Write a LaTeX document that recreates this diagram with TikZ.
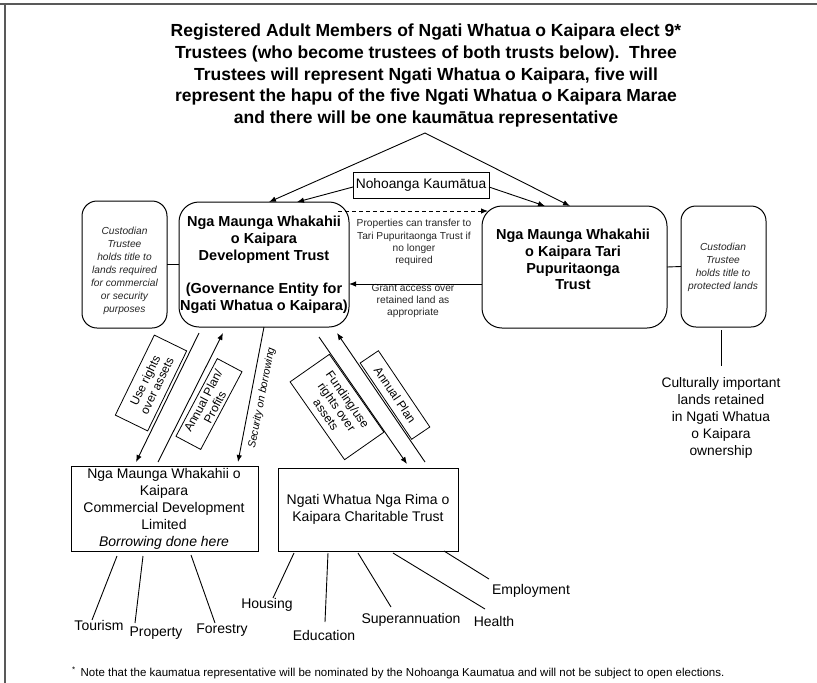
\documentclass[tikz,border=0pt]{standalone}
\usepackage{fontspec}
\setmainfont{Liberation Sans}
\usetikzlibrary{arrows.meta,calc}
\begin{document}
\begin{tikzpicture}[x=1pt,y=-1pt,
  every node/.style={inner sep=0pt, outer sep=0pt},
  ln/.style={line width=0.9pt, black},
  arr/.style={ln, -{Latex[length=7pt,width=5.5pt]}},
  rbox/.style={draw, line width=1pt, rounded corners=20pt},
  cbox/.style={draw, line width=1pt, rounded corners=15pt},
  sbox/.style={draw, line width=1pt},
  lbl/.style={draw, line width=0.8pt, align=center, font=\fontsize{12}{13.2}\selectfont},
  boldtxt/.style={align=center, font=\bfseries\fontsize{14.5}{16.8}\selectfont},
  custtxt/.style={align=center, font=\itshape\fontsize{10.2}{13}\selectfont, text=black!85},
  smalltxt/.style={align=center, font=\fontsize{10.2}{12.2}\selectfont, text=black!85},
  boxtxt/.style={align=center, font=\fontsize{14}{17}\selectfont},
  leaf/.style={font=\fontsize{14}{17}\selectfont}
]
\useasboundingbox (0,0) rectangle (817,683);
% frame
\draw[line width=2pt, black!65] (0,4) -- (817,4);
\draw[line width=1.6pt, black!65] (5,4) -- (5,683);

% title
\node[align=center, font=\bfseries\fontsize{17.5}{21.75}\selectfont] (title) at (426,75.5)
 {Registered Adult Members of Ngati Whatua o Kaipara elect 9*\\
  Trustees (who become trustees of both trusts below).\ \ Three\\
  Trustees will represent Ngati Whatua o Kaipara, five will\\
  represent the hapu of the five Ngati Whatua o Kaipara Marae\\
  and there will be one kaumātua representative};
\coordinate (apex) at (425,133);

% main boxes
\node[rbox, minimum width=170pt, minimum height=125pt] (dev) at (264,264.5) {};
\node[boldtxt] (devtext) at (264,265) {Nga Maunga Whakahii\\o Kaipara\\Development Trust\\[16.8pt](Governance Entity for\\Ngati Whatua o Kaipara)};
\node[rbox, minimum width=185pt, minimum height=122pt] (tari) at (574.5,267) {};
\node[boldtxt] (taritext) at (573,259.5) {Nga Maunga Whakahii\\o Kaipara Tari\\Pupuritaonga\\Trust};
\node[cbox, minimum width=85pt, minimum height=127pt] (lc) at (124.5,264.5) {};
\node[custtxt] (lctext) at (124.5,270.5) {Custodian\\Trustee\\holds title to\\lands required\\for commercial\\or security\\purposes};
\node[cbox, minimum width=85pt, minimum height=121pt] (rc) at (723.5,266.5) {};
\node[custtxt] (rctext) at (723,267) {Custodian\\Trustee\\holds title to\\protected lands};
\node[sbox, minimum width=136pt, minimum height=26pt, font=\fontsize{13.8}{16}\selectfont] (noh) at (421,185) {Nohoanga Kaumātua};

\node[align=center, font=\fontsize{13.8}{17}\selectfont, anchor=north] (cult) at (721,377)
 {Culturally important\\lands retained\\in Ngati Whatua\\o Kaipara\\ownership};

% lower boxes
\node[sbox, minimum width=187pt, minimum height=85pt] (com) at (164.5,508.5) {};
\node[boxtxt] (comtext) at (164,509) {Nga Maunga Whakahii o\\Kaipara\\Commercial Development\\Limited\\\textit{Borrowing done here}};
\node[sbox, minimum width=180pt, minimum height=83pt] (cha) at (368,509.5) {};
\node[boxtxt] (chatext) at (368,509.5) {Ngati Whatua Nga Rima o\\Kaipara Charitable Trust};

% texts near arrows
\node[smalltxt] (proptxt) at (414,242.5) {Properties can transfer to\\Tari Pupuritaonga Trust if\\no longer\\required};
\node[smalltxt] (granttxt) at (413,301) {Grant access over\\retained land as\\appropriate};

% top connectors
\draw[arr] (apex) -- ([xshift=5pt]dev.north);
\draw[arr] (apex) -- ([xshift=-4.5pt]tari.north);
\draw[arr] ([yshift=-2pt]noh.west) -- ([xshift=33pt]dev.north);
\draw[arr] ([yshift=-2pt]noh.east) -- ([xshift=-29.5pt]tari.north);
\draw[arr, dashed, dash pattern=on 4pt off 3pt] ([xshift=-11pt,yshift=-9pt]dev.north east) -- ([xshift=6pt,yshift=-5pt]tari.north west);
\draw[arr] ([yshift=-17pt]tari.west) coordinate (g1) -- (dev.east |- g1);
\draw[ln] (lc.east) -- (dev.west);
\draw[ln] (tari.east) -- (rc.west);
\draw[ln] ([xshift=-2.5pt,yshift=-3pt]rc.south) -- ([yshift=11pt]cult.north);

% dev <-> commercial
\draw[arr] ([xshift=-65pt,yshift=-6pt]dev.south) -- ([xshift=-28.5pt,yshift=4pt]com.north);
\draw[arr] ([xshift=-6.5pt,yshift=4pt]com.north) -- ([xshift=-41pt,yshift=-6pt]dev.south);
\draw[arr] (dev.south) -- ([xshift=73.5pt,yshift=4pt]com.north);
% dev <-> charitable
\draw[arr] ([xshift=55pt,yshift=-10pt]dev.south) -- ([xshift=39pt,yshift=4pt]cha.north);
\draw[arr] ([xshift=57pt,yshift=6pt]cha.north) -- ([xshift=73pt,yshift=-6pt]dev.south);

% rotated labels
\node[lbl, minimum width=89pt, minimum height=36pt, rotate=64] (use) at (151,383) {Use rights\\over assets};
\node[lbl, minimum width=88pt, minimum height=28pt, rotate=62] (ap1) at (209,404) {Annual Plan/\\Profits};
\node[lbl, minimum width=95pt, minimum height=48pt, rotate=-55] (fund) at (337,407) {Funding/use\\rights over\\assets};
\node[lbl, minimum width=92pt, minimum height=22pt, rotate=-56] (ap2) at (395,395) {Annual Plan};
\node[font=\itshape\fontsize{10.6}{12}\selectfont, rotate=79] (sec) at (262,398) {Security on borrowing};

% leaves of commercial
\node[leaf] (tour) at (99,625) {Tourism};
\node[leaf] (prop) at (156,633) {Property};
\node[leaf] (fore) at (222,630) {Forestry};
\draw[ln] ([xshift=-47.5pt,yshift=-5pt]com.south) -- ([xshift=-7pt,yshift=5pt]tour.center);
\draw[ln] ([xshift=-21.5pt,yshift=-5pt]com.south) -- ([xshift=-21pt,yshift=10pt]prop.center);
\draw[ln] ([xshift=26.5pt,yshift=-4pt]com.south) -- ([xshift=-7pt,yshift=7pt]fore.center);

% leaves of charitable
\node[leaf] (hous) at (267,605) {Housing};
\node[leaf] (educ) at (324,635) {Education};
\node[leaf] (supe) at (411,620) {Superannuation};
\node[leaf] (heal) at (494,621) {Health};
\node[leaf] (empl) at (531,591) {Employment};
\draw[ln] ([xshift=-74pt,yshift=-2pt]cha.south) -- ([xshift=6pt,yshift=7pt]hous.center);
\draw[ln] ([xshift=-40pt,yshift=-2pt]cha.south) -- ([xshift=1pt,yshift=13pt]educ.center);
\draw[ln] ([xshift=-10pt,yshift=-2pt]cha.south) -- ([xshift=-20pt,yshift=13pt]supe.center);
\draw[ln] ([xshift=25pt,yshift=-2pt]cha.south) -- ([xshift=-9pt,yshift=12pt]heal.center);
\draw[ln] ([xshift=76pt]cha.south) -- ([xshift=-42pt,yshift=12pt]empl.center);

% footnote
\node[anchor=west, font=\fontsize{11.5}{13}\selectfont] (foot) at (72,673)
 {\textsuperscript{*}\hspace{5pt}Note that the kaumatua representative will be nominated by the Nohoanga Kaumatua and will not be subject to open elections.};
\end{tikzpicture}
\end{document}
